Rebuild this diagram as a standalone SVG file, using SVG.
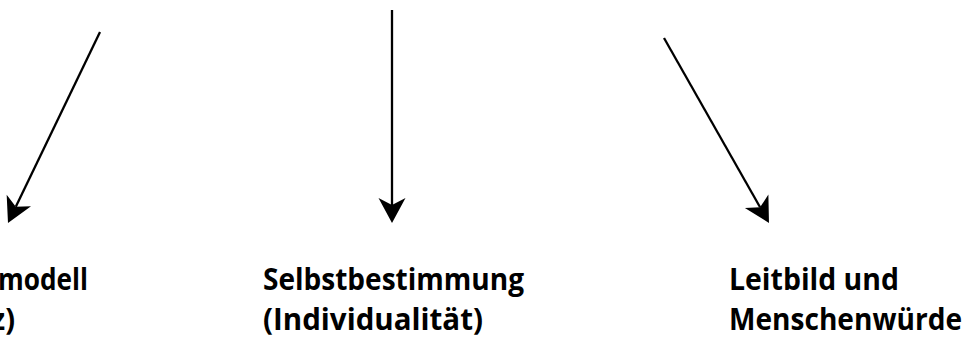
<svg xmlns="http://www.w3.org/2000/svg" width="972" height="338" viewBox="0 0 972 338">
  <style>
    .conn { stroke: #000; stroke-width: 2.3; fill: none; marker-end: url(#head); }
    .label { font-family: "Open Sans", "Liberation Sans", sans-serif; font-weight: bold; font-size: 31px; fill: #000; }
  </style>
  <defs>
    <!-- notched arrowhead, tip 18px ahead of the line end -->
    <marker id="head" markerUnits="userSpaceOnUse" markerWidth="30" markerHeight="32" viewBox="-2 -16 30 32" refX="7" refY="0" orient="auto">
      <path d="M0,-13.5 L25,0 L0,13.5 L7,0 Z" fill="#000"/>
    </marker>
  </defs>
  <rect width="972" height="338" fill="#fff"/>

  <g id="connectors">
    <line class="conn" x1="100" y1="32" x2="15.8" y2="206.8"/>
    <line class="conn" x1="392" y1="10" x2="392" y2="205"/>
    <line class="conn" x1="664" y1="38" x2="760.1" y2="207.3"/>
  </g>

  <g id="node-left">
    <text class="label" x="88" y="290" text-anchor="end" textLength="90" lengthAdjust="spacingAndGlyphs">modell</text>
    <text class="label" x="15" y="330" text-anchor="end" textLength="24" lengthAdjust="spacingAndGlyphs">z)</text>
  </g>

  <g id="node-middle">
    <text class="label" x="263" y="290" textLength="261" lengthAdjust="spacingAndGlyphs">Selbstbestimmung</text>
    <text class="label" x="263" y="330" textLength="220" lengthAdjust="spacingAndGlyphs">(Individualität)</text>
  </g>

  <g id="node-right">
    <text class="label" x="729" y="290" textLength="170" lengthAdjust="spacingAndGlyphs">Leitbild und</text>
    <text class="label" x="729" y="330" textLength="233" lengthAdjust="spacingAndGlyphs">Menschenwürde</text>
  </g>
</svg>
